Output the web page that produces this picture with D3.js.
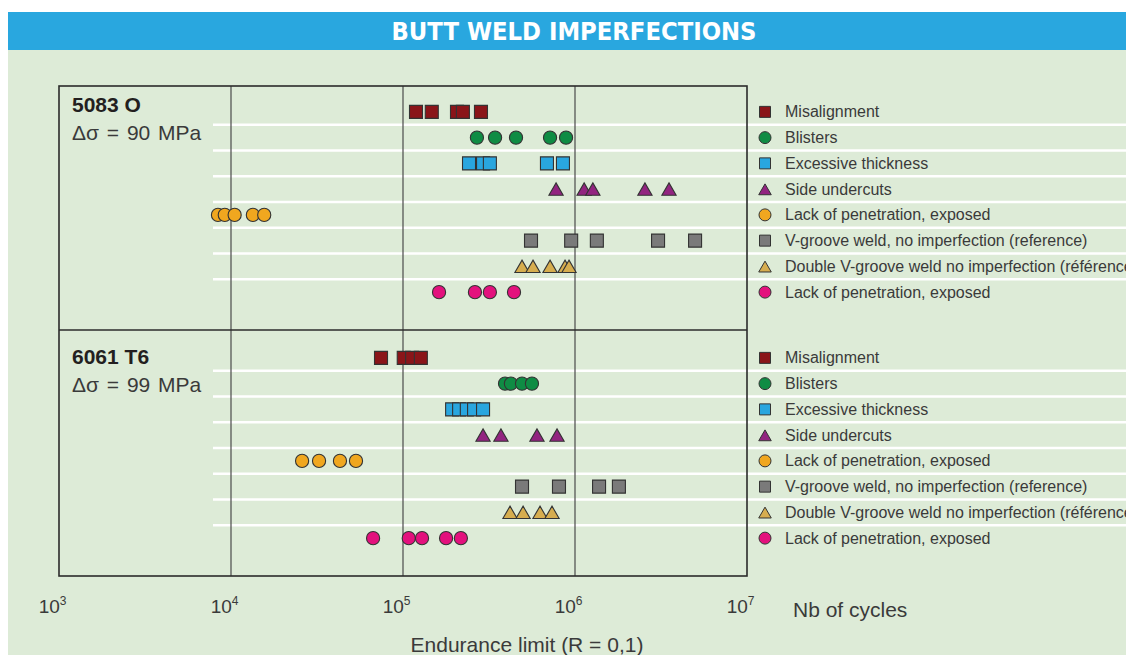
<!DOCTYPE html>
<html>
<head>
<meta charset="utf-8">
<script src="https://cdnjs.cloudflare.com/ajax/libs/d3/7.8.5/d3.min.js"></script>
<style>
  body { margin: 0; background: #fff; }
  svg { display: block; font-family: "Liberation Sans", Arial, sans-serif; }
</style>
</head>
<body>
<div id="chart"></div>
<script>
// butt weld imperfections - endurance limit per imperfection type
var svgWidth = 1126;
var svgHeight = 655;

// legend labels (same order in both panels)
var categories = [
  "Misalignment",
  "Blisters",
  "Excessive thickness",
  "Side undercuts",
  "Lack of penetration, exposed",
  "V-groove weld, no imperfection (reference)",
  "Double V-groove weld no imperfection (référence)",
  "Lack of penetration, exposed"
];
var shapes = ["square", "circle", "square", "triangle", "circle", "square", "triangle", "circle"];
var colors = ["#8a1519", "#0f8c44", "#29a6df", "#922480", "#f0a71f", "#7a7a7a", "#d6ad4f", "#e3117d"];

var alloys = ["5083 O", "6061 T6"];
var stressRanges = ["Δσ = 90 MPa", "Δσ = 99 MPa"];

// cycles to failure, one list per category
var cycles5083 = [
  [1.19e5, 1.47e5, 2.06e5, 2.23e5, 2.84e5],
  [2.69e5, 3.43e5, 4.54e5, 7.16e5, 8.87e5],
  [2.42e5, 2.92e5, 3.2e5, 6.87e5, 8.51e5],
  [7.76e5, 1.13e6, 1.27e6, 2.55e6, 3.52e6],
  [8.4e3, 9.2e3, 1.05e4, 1.34e4, 1.56e4],
  [5.55e5, 9.5e5, 1.34e6, 3.04e6, 4.99e6],
  [4.92e5, 5.7e5, 7.16e5, 8.75e5, 9.23e5],
  [1.62e5, 2.62e5, 3.2e5, 4.42e5]
];
var cycles6061 = [
  [7.45e4, 1.01e5, 1.13e5, 1.27e5],
  [3.92e5, 4.24e5, 4.92e5, 5.62e5],
  [1.93e5, 2.12e5, 2.35e5, 2.59e5, 2.92e5],
  [2.92e5, 3.71e5, 6.01e5, 7.86e5],
  [2.59e4, 3.25e4, 4.3e4, 5.33e4],
  [4.92e5, 8.07e5, 1.38e6, 1.8e6],
  [4.19e5, 4.99e5, 6.26e5, 7.35e5],
  [6.7e4, 1.08e5, 1.29e5, 1.78e5, 2.17e5]
];
var tickValues = [1e3, 1e4, 1e5, 1e6, 1e7];
var tickExps = ["3", "4", "5", "6", "7"];

var svg = d3.select("#chart")
  .append("svg")
  .attr("width", svgWidth)
  .attr("height", svgHeight);

// title bar + green panel
svg.append("rect")
  .attr("x", 8).attr("y", 12)
  .attr("width", svgWidth - 8).attr("height", 38)
  .attr("fill", "#29a7df");
svg.append("rect")
  .attr("x", 8).attr("y", 50)
  .attr("width", svgWidth - 8).attr("height", svgHeight - 50)
  .attr("fill", "#ddebd7");
svg.append("text")
  .attr("x", 574).attr("y", 40)
  .attr("text-anchor", "middle")
  .attr("fill", "#fff")
  .attr("font-family", "'Liberation Sans Narrow', 'DejaVu Sans Condensed', sans-serif")
  .attr("font-weight", "bold")
  .attr("font-size", 25)
  .attr("textLength", 365)
  .attr("lengthAdjust", "spacingAndGlyphs")
  .text("BUTT WELD IMPERFECTIONS");

// scales
var plotLeft = 59, plotRight = 747, plotTop = 86, plotBottom = 576, plotMid = 330;
var x = d3.scaleLog().domain([1e3, 1e7]).range([plotLeft, plotRight]);

var panels = [
  { name: alloys[0], stress: stressRanges[0], data: cycles5083, y: d3.scaleBand().domain(d3.range(8)).range([99, 305]), labelY: 112 },
  { name: alloys[1], stress: stressRanges[1], data: cycles6061, y: d3.scaleBand().domain(d3.range(8)).range([345, 551]), labelY: 364 }
];

function symbolFor(shape, big) {
  if (shape === "square") return d3.symbol(d3.symbolSquare, big ? 169 : 121)();
  if (shape === "circle") return d3.symbol(d3.symbolCircle, big ? 136 : 113)();
  return d3.symbol(d3.symbolTriangle, big ? 88 : 68)();
}

panels.forEach(function(p) {
  var g = svg.append("g");

  // white row separators (run into the legend)
  g.selectAll(".sep")
    .data(d3.range(1, 8))
    .enter()
    .append("line")
    .attr("x1", 213).attr("x2", svgWidth)
    .attr("y1", d => p.y(d)).attr("y2", d => p.y(d))
    .attr("stroke", "#fff")
    .attr("stroke-width", 2.5);

  // alloy labels
  g.append("text")
    .attr("x", 72).attr("y", p.labelY)
    .attr("font-weight", "bold")
    .attr("font-size", 21)
    .attr("fill", "#231f20")
    .text(p.name);
  g.append("text")
    .attr("x", 72).attr("y", p.labelY + 28)
    .attr("font-size", 21)
    .attr("fill", "#3a3a3a")
    .attr("word-spacing", 2)
    .text(p.stress);
});

// vertical grid lines at the decades
svg.selectAll(".grid")
  .data([1e4, 1e5, 1e6])
  .enter()
  .append("line")
  .attr("x1", d => x(d)).attr("x2", d => x(d))
  .attr("y1", plotTop).attr("y2", plotBottom)
  .attr("stroke", "#4a4a4a")
  .attr("stroke-width", 1.2);

// frame
svg.append("rect")
  .attr("x", plotLeft).attr("y", plotTop)
  .attr("width", plotRight - plotLeft).attr("height", plotBottom - plotTop)
  .attr("fill", "none")
  .attr("stroke", "#2b2b2b")
  .attr("stroke-width", 1.6);
svg.append("line")
  .attr("x1", plotLeft).attr("x2", plotRight)
  .attr("y1", plotMid).attr("y2", plotMid)
  .attr("stroke", "#2b2b2b")
  .attr("stroke-width", 1.6);

// markers + legend
panels.forEach(function(p) {
  var g = svg.append("g");
  p.data.forEach(function(vals, i) {
    var cy = p.y(i) + p.y.bandwidth() / 2;
    g.selectAll(".m" + i)
      .data(vals)
      .enter()
      .append("path")
      .attr("d", symbolFor(shapes[i], true))
      .attr("transform", d => `translate(${x(d)}, ${cy + (shapes[i] === "triangle" ? 2 : 0)})`)
      .attr("fill", colors[i])
      .attr("stroke", "#333")
      .attr("stroke-width", 1.1);

    g.append("path")
      .attr("d", symbolFor(shapes[i], false))
      .attr("transform", `translate(765, ${cy + (shapes[i] === "triangle" ? 2 : 0)})`)
      .attr("fill", colors[i])
      .attr("stroke", "#333")
      .attr("stroke-width", 1);
    g.append("text")
      .attr("x", 785).attr("y", cy)
      .attr("dy", "0.35em")
      .attr("font-size", 16)
      .attr("fill", "#3a3a3a")
      .text(categories[i]);
  });
});

// x axis (labels only, no line)
var xAxis = svg.append("g")
  .attr("transform", `translate(0, ${plotBottom})`)
  .call(d3.axisBottom(x).tickValues(tickValues).tickSize(0).tickFormat(""));
xAxis.select(".domain").remove();
xAxis.selectAll(".tick text").remove();
xAxis.selectAll(".tick")
  .append("text")
  .attr("x", 0).attr("y", 37)
  .attr("text-anchor", "end")
  .attr("fill", "#3a3a3a")
  .attr("font-size", 19)
  .attr("font-family", "'Liberation Sans', Arial, sans-serif")
  .each(function(d, i) {
    var t = d3.select(this);
    t.append("tspan").text("10");
    t.append("tspan").attr("font-size", 12).attr("dy", -8).text(tickExps[i]);
  })
  .attr("dx", 7);

svg.append("text")
  .attr("x", 793).attr("y", 617)
  .attr("font-size", 21)
  .attr("fill", "#3a3a3a")
  .text("Nb of cycles");
svg.append("text")
  .attr("x", 527).attr("y", 652)
  .attr("text-anchor", "middle")
  .attr("font-size", 21)
  .attr("fill", "#3a3a3a")
  .text("Endurance limit (R = 0,1)");
</script>
</body>
</html>
